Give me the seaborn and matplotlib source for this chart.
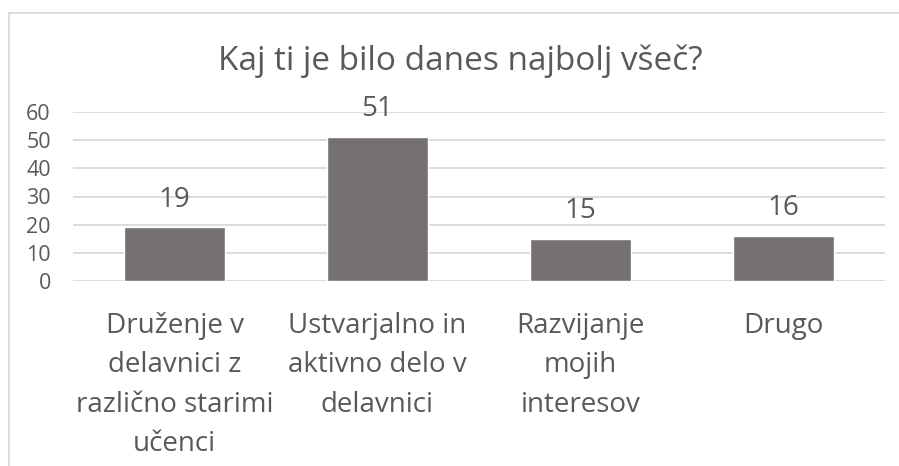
import matplotlib
matplotlib.use("Agg")
import matplotlib.pyplot as plt
import matplotlib.patheffects as pe
from matplotlib.patches import Rectangle
import seaborn as sns
import pandas as pd

# Survey answers: "What did you like best today?"
categories = [
    "Druženje v\ndelavnici z\nrazlično starimi\nučenci",
    "Ustvarjalno in\naktivno delo v\ndelavnici",
    "Razvijanje\nmojih\ninteresov",
    "Drugo",
]
counts = [19, 51, 15, 16]
y_ticks = [0, 10, 20, 30, 40, 50, 60]
title = "Kaj ti je bilo danes najbolj všeč?"

text_color = "#595959"
bar_color = "#767171"
grid_color = "#d9d9d9"

sns.set_theme(style="white")
plt.rcParams["font.family"] = ["Open Sans", "DejaVu Sans"]

W, H = 899, 466
fig = plt.figure(figsize=(W / 100, H / 100), dpi=100)
ax = fig.add_axes([73 / W, 1 - 281 / H, (885 - 73) / W, (281 - 112) / H])

df = pd.DataFrame({"category": categories, "count": counts})
sns.barplot(data=df, x="category", y="count", color=bar_color, width=0.5,
            saturation=1, ax=ax, zorder=3)

for patch in ax.patches:
    patch.set_path_effects([
        pe.SimplePatchShadow(offset=(0, -1), shadow_rgbFace="#000000", alpha=0.18),
        pe.Normal(),
    ])

ax.set_ylim(0, 60)
ax.set_yticks(y_ticks)
ax.set_xlim(-0.5, len(categories) - 0.5)
ax.yaxis.grid(True, color=grid_color, linewidth=1.3, zorder=0)
ax.set_axisbelow(True)
for s in ax.spines.values():
    s.set_visible(False)
ax.set_xlabel("")
ax.set_ylabel("")
ax.tick_params(axis="y", length=0, pad=16, labelsize=15.5, labelcolor=text_color)
ax.tick_params(axis="x", length=0, pad=22, labelsize=20, labelcolor=text_color)
for lbl in ax.get_xticklabels():
    lbl.set_linespacing(1.55)
    lbl.set_verticalalignment("top")

# value labels above bars
for i, v in enumerate(counts):
    ax.annotate(str(v), (i, v), xytext=(0, 10), textcoords="offset points",
                ha="center", va="bottom", fontsize=20, color=text_color)

fig.text(460 / W, 1 - 70 / H, title, ha="center", va="baseline",
         fontsize=24, color=text_color)

# outer chart frame
fig.patches.append(Rectangle((9 / W, -0.1), 1.2, 1 - 13 / H + 0.1,
                             transform=fig.transFigure, fill=False,
                             edgecolor=grid_color, linewidth=1.3))

fig.savefig("out.png", dpi=100, facecolor="white")
